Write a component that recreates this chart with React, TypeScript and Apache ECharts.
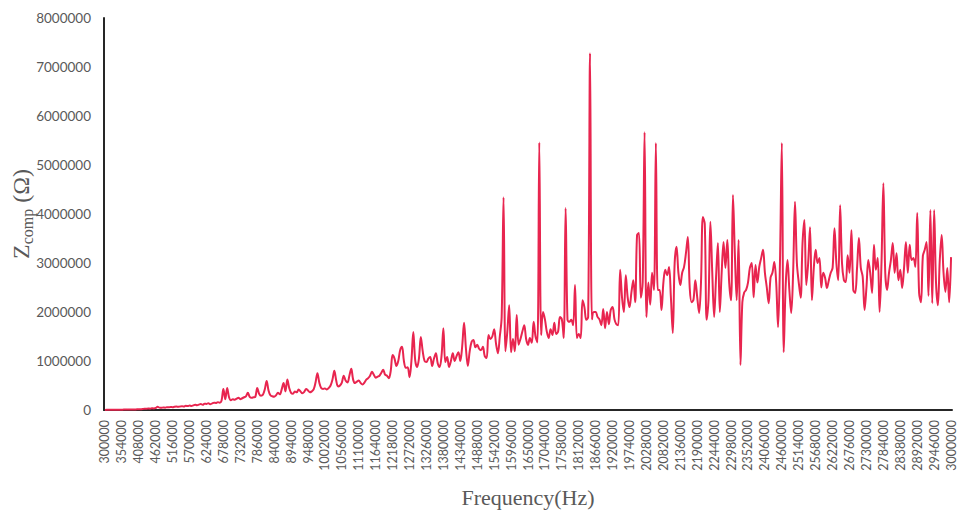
import React, { useEffect, useRef } from 'react';
import * as echarts from 'echarts';

// Frequency categories: 300000 Hz to 3000000 Hz, one sample every 6000 Hz
const FREQ_START = 300000;
const FREQ_STEP = 6000;
const FREQ_COUNT = 451;
const frequencies: string[] = Array.from({ length: FREQ_COUNT }, (_, i) => String(FREQ_START + i * FREQ_STEP));

// Z_comp values, in kΩ (x1000 Ω)
const zSeg1 = [
  2, 3, 3, 4, 4, 5, 5, 6, 6, 7,
  8, 8, 9, 10, 10, 11, 12, 13, 14, 15,
  20, 28, 24, 32, 27, 38, 33, 42, 65, 48,
  45, 52, 48, 58, 55, 62, 57, 66, 70, 64,
  72, 78, 70, 85, 80, 90, 84, 95, 105, 98,
  110, 120, 105, 130, 125, 140, 118, 135, 150, 145,
  160, 150, 190, 430, 220, 450, 260, 200, 220, 210,
  230, 250, 220, 240, 260, 280, 350, 270, 250, 260,
  270, 450, 330, 290, 310, 420, 590, 400, 300, 280,
];
const zSeg2 = [
  270, 300, 350, 320, 420, 550, 380, 620, 450, 350,
  330, 380, 360, 420, 380, 340, 370, 430, 400, 360,
  380, 420, 560, 750, 560, 450, 430, 440, 420, 450,
  500, 620, 800, 600, 480, 500, 560, 700, 600, 560,
  700, 840, 620, 550, 580, 600, 550, 520, 560, 620,
  650, 700, 780, 720, 660, 680, 700, 760, 820, 720,
  700, 650, 800, 1120, 1050, 900, 1000, 1220, 1290, 1000,
  860, 870, 670, 1000, 1590, 1020, 880, 1050, 1490, 1200,
  1000, 980, 1050, 1080, 900, 1050, 1160, 950, 880, 1100,
];
const zSeg3 = [
  1670, 980, 1080, 880, 1000, 1160, 1000, 1100, 1180, 1000,
  1300, 1780, 1250, 900, 1200, 1390, 1430, 1280, 1330, 1250,
  1220, 1290, 1100, 1060, 1530, 1450, 1500, 1650, 1350, 1160,
  1500, 1900, 4340, 1200, 1600, 2140, 1180, 1450, 1200, 1940,
  1330, 1450, 1600, 1730, 1450, 1330, 1470, 1370, 1800, 1500,
  1380, 5460, 1530, 2000, 1850, 1600, 1470, 1650, 1530, 1780,
  1550, 1600, 1900, 1850, 1470, 4120, 1840, 1800, 1840, 1730,
  2550, 1470, 1550, 1470, 2240, 2100, 1840, 1900, 7280, 1850,
  2000, 2000, 1900, 1850, 1730, 2060, 1670, 2000, 1750, 2040,
];
const zSeg4 = [
  2100, 1850, 1750, 1730, 2860, 2300, 2000, 2750, 2300, 2100,
  2400, 2650, 2200, 3570, 3610, 2290, 2600, 5670, 1900, 2600,
  2150, 2800, 2450, 5450, 2450, 2450, 2040, 2600, 2860, 2750,
  2920, 2300, 1570, 3000, 3330, 2800, 2550, 2800, 2920, 3200,
  3530, 2500, 2200, 2250, 2650, 2300, 1980, 2600, 3940, 3800,
  1840, 2240, 3840, 2800, 1900, 2700, 3410, 2000, 2800, 3430,
  2900, 3470, 2600, 2240, 4390, 3200, 2240, 3470, 920, 2200,
  2400, 2450, 2600, 2900, 3000, 2300, 2960, 2600, 2920, 3100,
  3270, 2800, 2500, 2180, 2700, 2800, 3020, 2600, 1690, 3000,
];
const zSeg5 = [
  5450, 1180, 2500, 3060, 2450, 1980, 2800, 4250, 3000, 2600,
  2290, 3400, 3880, 2550, 3000, 3730, 2240, 2900, 3270, 3000,
  3100, 2500, 2800, 2700, 2490, 2650, 2800, 2900, 3710, 3000,
  2650, 4180, 3000, 2650, 2610, 3160, 2800, 3670, 2450, 2390,
  2900, 3510, 2900, 2720, 2040, 2500, 3060, 2800, 2390, 3370,
  2860, 3100, 2000, 3000, 4630, 2800, 2450, 2800, 3060, 3410,
  2800, 3200, 2650, 2860, 2490, 2900, 3430, 2800, 3370, 3060,
  3100, 2920, 4020, 2390, 2200, 3140, 3270, 3430, 2330, 4080,
  2180, 4080, 2600, 2140, 3060, 3570, 2800, 2410, 2900, 2200, 3120,
];
const zValues: number[] = [...zSeg1, ...zSeg2, ...zSeg3, ...zSeg4, ...zSeg5].map((v) => v * 1000);

const Y_MIN = 0;
const Y_MAX = 8000000;
const Y_INTERVAL = 1000000;

export default function App() {
  const ref = useRef<HTMLDivElement>(null);
  useEffect(() => {
    if (!ref.current) return;
    const chart = echarts.init(ref.current, null, { renderer: 'svg' });
    chart.setOption({
      animation: false,
      backgroundColor: '#ffffff',
      grid: { left: 104, right: 9, top: 18, bottom: 104, containLabel: false, outerBoundsMode: 'none' },
      xAxis: {
        type: 'category',
        data: frequencies,
        boundaryGap: true,
        axisLine: { lineStyle: { color: '#262626', width: 2 } },
        axisTick: { show: false },
        splitLine: { show: false },
        axisLabel: {
          interval: 8,
          rotate: 90,
          color: '#595959',
          fontFamily: 'Lato',
          fontSize: 12.5,
          margin: 10,
        },
        name: 'Frequency(Hz)',
        nameLocation: 'middle',
        nameGap: 76,
        nameMoveOverlap: false,
        nameTextStyle: { fontFamily: 'Liberation Serif', fontSize: 22, color: '#595959' },
      },
      yAxis: {
        type: 'value',
        min: Y_MIN,
        max: Y_MAX,
        interval: Y_INTERVAL,
        axisLine: { show: true, lineStyle: { color: '#262626', width: 2 } },
        axisTick: { show: false },
        splitLine: { show: false },
        axisLabel: {
          color: '#595959',
          fontFamily: 'Lato',
          fontSize: 13.5,
          margin: 13,
          formatter: (v: number) => String(v),
        },
        name: '{z|Z}{s|comp}{z| (Ω)}',
        nameLocation: 'middle',
        nameGap: 69,
        nameMoveOverlap: false,
        nameTextStyle: {
          color: '#595959',
          fontFamily: 'Liberation Serif',
          rich: {
            z: { fontFamily: 'Liberation Serif', fontSize: 24, color: '#595959', lineHeight: 28 },
            s: { fontFamily: 'Liberation Serif', fontSize: 16, color: '#595959', verticalAlign: 'bottom', lineHeight: 28, padding: [10, 0, 0, 0] },
          },
        },
      },
      series: [
        {
          type: 'line',
          data: zValues,
          smooth: 0.35,
          symbol: 'none',
          lineStyle: { color: '#E8254F', width: 2 },
        },
      ],
    });
    return () => chart.dispose();
  }, []);
  return <div ref={ref} style={{ position: 'fixed', left: 0, top: 0, width: 961, height: 514 }} />;
}
